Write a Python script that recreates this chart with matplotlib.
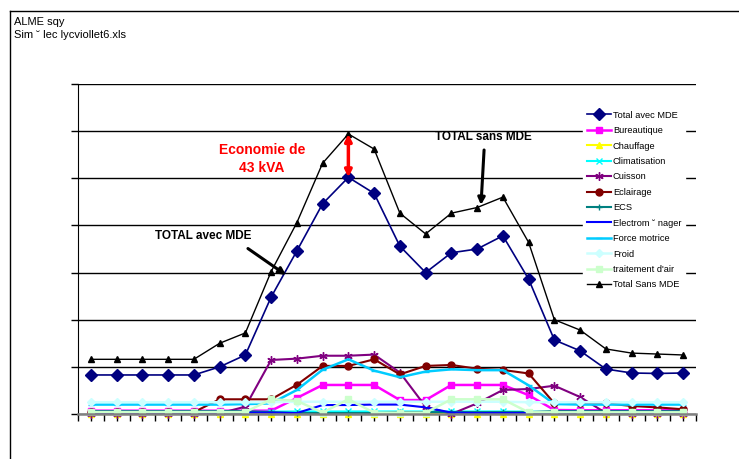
import matplotlib
matplotlib.use("Agg")
import matplotlib.pyplot as plt
from matplotlib.lines import Line2D

plt.rcParams['font.family'] = ['Liberation Sans', 'DejaVu Sans']

hours = list(range(24))

total_avec = [41.4, 41.4, 41.4, 41.4, 41.4, 50, 62.6, 124, 173, 223, 251, 234,
              178, 150, 171, 175, 189, 143, 78.5, 67, 47.7, 43.5, 43, 43.5]
bureautique = [3.5, 3.5, 3.5, 3.5, 3.5, 3.5, 3.5, 3.5, 17, 30.8, 30.8, 30.8,
               14.8, 14.8, 30.8, 30.8, 30.8, 20, 4.2, 4, 4, 4, 4, 4]
chauffage = [0.3, 0.3, 0.3, 0.3, 0.3, 0.3, 0.3, 0.3, 0.3, 0.3, 0.3, 0.3,
             0.3, 0.3, 0.3, 0.3, 0.3, 0.3, 0.3, 0.3, 0.3, 0.3, 0.3, 0.3]
climatisation = [2, 2, 2, 2, 2, 2, 2, 2.5, 2.7, 2.7, 2.7, 2.7,
                 2.7, 2.7, 2.7, 2.7, 2.7, 2.5, 2, 2, 2, 2, 2, 2]
cuisson = [0.5, 0.5, 0.5, 0.5, 0.5, 0.7, 7.8, 57.3, 58.7, 61.8, 61.8, 63,
           44, 7.8, 0, 11.3, 25.5, 26.5, 30, 18, 1, 0.5, 0.5, 0.5]
eclairage = [2, 2, 2, 2, 2, 15.6, 15.6, 15.6, 31, 51, 51, 58,
             42, 51, 52, 48, 46.7, 43, 11.3, 11.3, 11.3, 8.5, 7, 5]
ecs = [3, 3, 3, 3, 3, 3, 3, 2, 1, 1, 1, 1,
       2, 2, 2, 2, 2, 2, 3, 3, 3, 3, 3, 3]
electromenager = [1.5, 1.5, 1.5, 1.5, 1.5, 1.5, 1.5, 1.5, 1, 9.5, 9.5, 10,
                  10, 7, 1.5, 1, 1, 1, 1, 1, 1, 1, 1, 1]
force_motrice = [10, 10, 10, 10, 10, 10, 10.5, 11.3, 25.5, 47, 58, 46,
                 39, 45, 47.4, 46.5, 46.5, 30.4, 10.6, 10, 10, 10, 10, 10]
froid = [12.5, 12.5, 12.5, 12.5, 12.5, 12.5, 12.5, 12.5, 13, 13, 13, 13,
         13, 13, 13, 13, 13, 12.5, 12.5, 12.5, 12.5, 12.5, 12.5, 12.5]
traitement_air = [2, 2, 2, 2, 2, 2, 2, 15.6, 14, 1.4, 15.6, 1.4,
                  1.4, 1.4, 15.6, 15.6, 15.6, 1.8, 1.8, 1.8, 1.8, 1.8, 1.8, 1.8]
total_sans = [58, 58, 58, 58, 58, 75, 86, 151, 203, 266, 297, 281,
              213, 191, 213, 219, 230, 182, 100, 89, 69, 64.6, 63.6, 62.6]

series = [
    ("Total avec MDE", total_avec, "#000080", "D", 6, 1.2),
    ("Bureautique", bureautique, "#FF00FF", "s", 4.5, 1.8),
    ("Chauffage", chauffage, "#FFFF00", "^", 4.5, 1.5),
    ("Climatisation", climatisation, "#00FFFF", "x", 4.5, 1.5),
    ("Cuisson", cuisson, "#800080", (6, 2, 0), 6, 1.5),
    ("Eclairage", eclairage, "#800000", "o", 5, 1.5),
    ("ECS", ecs, "#008080", "+", 5, 1.5),
    ("Electrom \u02d8 nager", electromenager, "#0000FF", None, 0, 1.5),
    ("Force motrice", force_motrice, "#00CCFF", "_", 5, 1.8),
    ("Froid", froid, "#CCFFFF", "D", 4.5, 1.8),
    ("traitement d'air", traitement_air, "#CCFFCC", "s", 4.5, 1.8),
    ("Total Sans MDE", total_sans, "#000000", "^", 4.5, 1.0),
]

W, H = 739, 459
fig = plt.figure(figsize=(W / 100, H / 100), dpi=100)
fig.patch.set_facecolor("white")

# outer frame
fig.add_artist(Line2D([10 / W, 10 / W], [0, 1 - 11 / H], color="black", lw=1.0, transform=fig.transFigure))
fig.add_artist(Line2D([10 / W, 1], [1 - 11 / H, 1 - 11 / H], color="black", lw=1.0, transform=fig.transFigure))
fig.text(14 / W, 1 - 22 / H, "ALME sqy", fontsize=8, va="center", ha="left")
fig.text(14 / W, 1 - 35 / H, "Sim \u02d8 lec lycviollet6.xls", fontsize=8, va="center", ha="left")

left, right, top, bottom = 78, 696, 84, 414
ax = fig.add_axes([left / W, 1 - bottom / H, (right - left) / W, (bottom - top) / H])
ax.set_xlim(-0.5, 23.5)
ax.set_ylim(0, 350)

for label, vals, col, mk, ms, lw in series:
    ax.plot(hours, vals, color=col, marker=mk, markersize=ms, lw=lw,
            markerfacecolor=col, markeredgecolor=col, label=label, clip_on=False)

ax.set_yticks([0, 50, 100, 150, 200, 250, 300, 350])
ax.yaxis.grid(True, color="black", lw=1.0)
ax.set_axisbelow(True)
ax.set_xticks([i * 0.5 - 0.5 for i in range(49)])
ax.tick_params(axis="both", direction="out", length=5, width=1, labelleft=False, labelbottom=False)
ax.spines["top"].set_visible(False)
ax.spines["right"].set_visible(False)
ax.spines["bottom"].set_color("#808080")
ax.spines["bottom"].set_linewidth(1.8)
ax.spines["left"].set_color("black")

leg = ax.legend(loc="upper left", bbox_to_anchor=((583 - left) / (right - left), 1 - (107 - top) / (bottom - top)),
                fontsize=6.7, frameon=True, facecolor="white", edgecolor="white", framealpha=1,
                handlelength=2.6, handletextpad=0.2, labelspacing=0.69, borderaxespad=0, borderpad=0.4)
leg.set_zorder(20)

# annotations
ax.text(6.65, 270.5, "Economie de\n43 kVA", color="#FF0000", fontsize=10, fontweight="bold",
        ha="center", va="center", linespacing=1.35)
ax.annotate("", xy=(10, total_avec[10]), xytext=(10, total_sans[10]),
            arrowprops=dict(arrowstyle="<|-|>", color="#FF0000", lw=2.5, mutation_scale=10, shrinkA=0, shrinkB=0))

ax.text(4.35, 188.8, "TOTAL avec MDE", color="black", fontsize=8.5, fontweight="bold", ha="center", va="center")
ax.annotate("", xy=(7.58, 147.4), xytext=(6.1, 175.5),
            arrowprops=dict(arrowstyle="-|>", color="black", lw=2.2, mutation_scale=10, shrinkA=0, shrinkB=0))

ax.text(15.23, 293.8, "TOTAL sans MDE", color="black", fontsize=8.5, fontweight="bold", ha="center", va="center")
ax.annotate("", xy=(15.15, 221.7), xytext=(15.27, 280),
            arrowprops=dict(arrowstyle="-|>", color="black", lw=2.2, mutation_scale=10, shrinkA=0, shrinkB=0))

fig.savefig("out.png", dpi=100, facecolor="white")
